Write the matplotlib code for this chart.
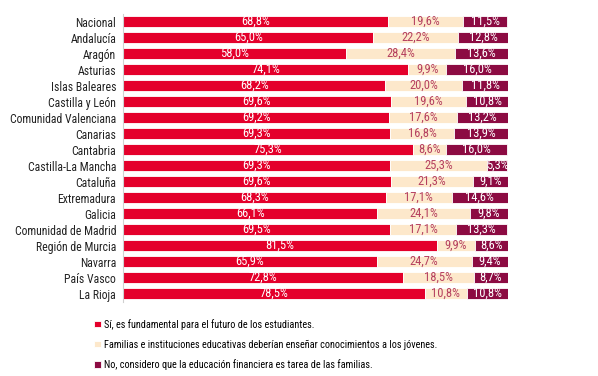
import matplotlib.pyplot as plt
import numpy as np
from matplotlib.font_manager import findfont, FontProperties

regiones = ["Nacional", "Andalucía", "Aragón", "Asturias", "Islas Baleares",
            "Castilla y León", "Comunidad Valenciana", "Canarias", "Cantabria",
            "Castilla-La Mancha", "Cataluña", "Extremadura", "Galicia",
            "Comunidad de Madrid", "Región de Murcia", "Navarra", "País Vasco",
            "La Rioja"]
si = [68.8, 65.0, 58.0, 74.1, 68.2, 69.6, 69.2, 69.3, 75.3, 69.3, 69.6, 68.3,
      66.1, 69.5, 81.5, 65.9, 72.8, 78.5]
familias = [19.6, 22.2, 28.4, 9.9, 20.0, 19.6, 17.6, 16.8, 8.6, 25.3, 21.3, 17.1,
            24.1, 17.1, 9.9, 24.7, 18.5, 10.8]
no = [11.5, 12.8, 13.6, 16.0, 11.8, 10.8, 13.2, 13.9, 16.0, 5.3, 9.1, 14.6,
      9.8, 13.3, 8.6, 9.4, 8.7, 10.8]
series = ["Sí, es fundamental para el futuro de los estudiantes.",
          "Familias e instituciones educativas deberían enseñar conocimientos a los jóvenes.",
          "No, considero que la educación financiera es tarea de las familias."]

rojo = '#e4002b'
beige = '#fde8cb'
granate = '#8c0b42'
colores = [rojo, beige, granate]
txt_col = ['white', '#b5405f', 'white']

# condensed font if there is one, else Lato (narrowish)
fam = 'Lato'
for cand in ['Roboto Condensed', 'Open Sans Condensed', 'Liberation Sans Narrow']:
    if 'ondensed' in findfont(FontProperties(family=cand)) or 'Narrow' in findfont(FontProperties(family=cand)):
        fam = cand
        break
plt.rcParams['font.family'] = [fam, 'DejaVu Sans']

fig = plt.figure(figsize=(5.98, 3.76), dpi=100)
ax = fig.add_axes([0.206, 0.198, 0.643, 0.766])

y = np.arange(len(regiones))
left = np.zeros(len(regiones))
for vals, col, tc, lab in zip([si, familias, no], colores, txt_col, series):
    vals = np.array(vals)
    ax.barh(y, vals, left=left, height=0.64, color=col, edgecolor='white',
            linewidth=0.6, label=lab)
    for yi, l, v in zip(y, left, vals):
        ax.text(l + v / 2, yi, '{:.1f}%'.format(v).replace('.', ','),
                ha='center', va='center', color=tc, fontsize=9)
    left += vals

ax.set_ylim(len(regiones) - 0.5, -0.5)
ax.set_xlim(0, 100)
ax.set_yticks(y)
ax.set_yticklabels(regiones, fontsize=8.5, color='#222222')
ax.set_xticks([])
ax.tick_params(axis='y', length=0, pad=5)
for s in ['top', 'right', 'bottom']:
    ax.spines[s].set_visible(False)
ax.spines['left'].set_color('#d0d0d0')
ax.spines['left'].set_linewidth(0.8)

fig.legend(loc='upper left', bbox_to_anchor=(0.158, 0.152), frameon=False,
           fontsize=7.4, handlelength=0.6, handleheight=0.6, handletextpad=0.3,
           labelspacing=0.95, borderaxespad=0, borderpad=0)

fig.savefig('out.png', dpi=100)
